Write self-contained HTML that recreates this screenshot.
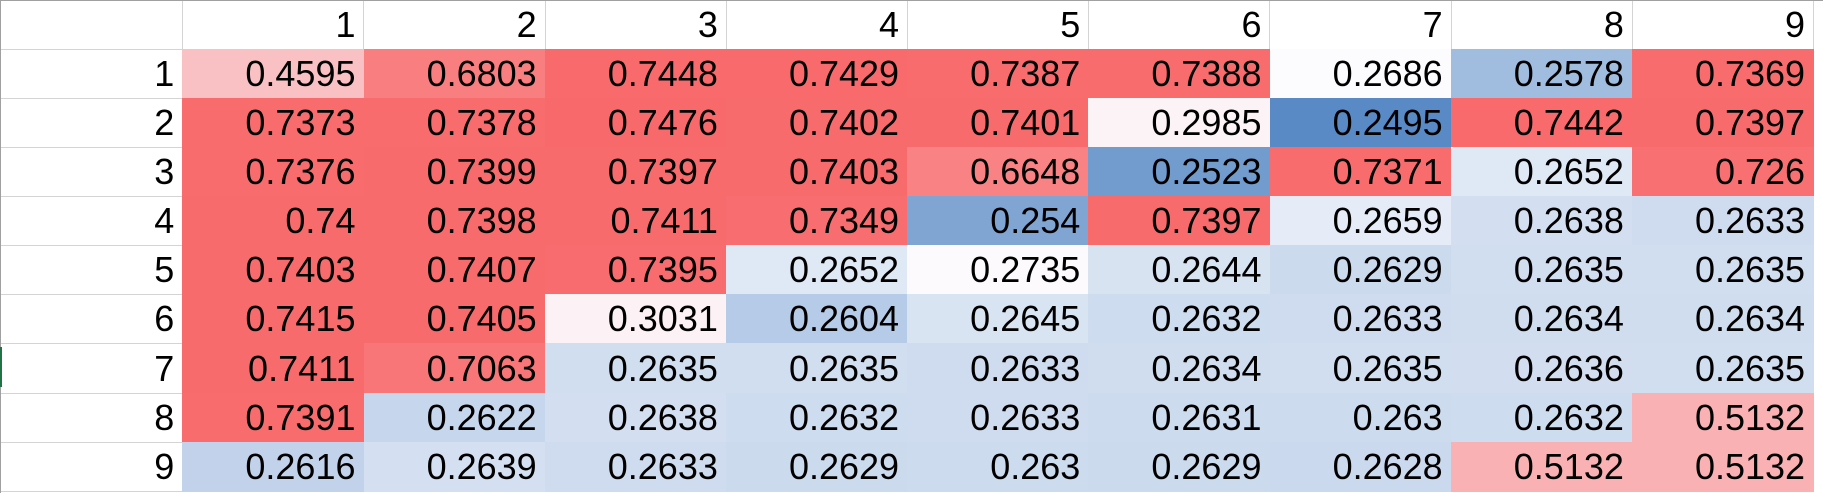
<!DOCTYPE html>
<html><head><meta charset="utf-8">
<style>
html,body{margin:0;padding:0;background:#fff;}
#sheet{position:relative;width:1823px;height:493px;overflow:hidden;font-family:"Liberation Sans",sans-serif;}
.c{position:absolute;box-sizing:border-box;border-right:1px solid #d4d4d4;border-bottom:1px solid #d4d4d4;font-size:36px;color:#000;line-height:1;}
.c span{position:absolute;right:8px;bottom:6px;}
</style></head>
<body>
<div id="sheet"></div>
<script>
const colLabels = ["1","2","3","4","5","6","7","8","9"];
const rowLabels = ["1","2","3","4","5","6","7","8","9"];
const row1 = ["0.4595","0.6803","0.7448","0.7429","0.7387","0.7388","0.2686","0.2578","0.7369"];
const row2 = ["0.7373","0.7378","0.7476","0.7402","0.7401","0.2985","0.2495","0.7442","0.7397"];
const row3 = ["0.7376","0.7399","0.7397","0.7403","0.6648","0.2523","0.7371","0.2652","0.726"];
const row4 = ["0.74","0.7398","0.7411","0.7349","0.254","0.7397","0.2659","0.2638","0.2633"];
const row5 = ["0.7403","0.7407","0.7395","0.2652","0.2735","0.2644","0.2629","0.2635","0.2635"];
const row6 = ["0.7415","0.7405","0.3031","0.2604","0.2645","0.2632","0.2633","0.2634","0.2634"];
const row7 = ["0.7411","0.7063","0.2635","0.2635","0.2633","0.2634","0.2635","0.2636","0.2635"];
const row8 = ["0.7391","0.2622","0.2638","0.2632","0.2633","0.2631","0.263","0.2632","0.5132"];
const row9 = ["0.2616","0.2639","0.2633","0.2629","0.263","0.2629","0.2628","0.5132","0.5132"];
const rows = [row1,row2,row3,row4,row5,row6,row7,row8,row9];

const sheet = document.getElementById('sheet');
const X0 = 182.3, CW = 181.2, Y0 = 49, RH = 49.08;
const xPos = i => X0 + CW * i;
const yPos = j => Y0 + RH * j;

const all = rows.flat().map(Number).sort((a,b)=>a-b);
const vmin = all[0], vmax = all[all.length-1];
const mid = all[Math.floor(all.length/2)];
const blue=[90,138,198], white=[252,252,255], red=[248,105,107];
function lerp(a,b,t){return a.map((v,i)=>Math.round(v+(b[i]-v)*t));}
function color(v){
  let c;
  if(v<=mid) c=lerp(blue,white,(v-vmin)/(mid-vmin||1));
  else c=lerp(white,red,(v-mid)/(vmax-mid||1));
  return `rgb(${c[0]},${c[1]},${c[2]})`;
}
function cell(x,y,w,h,text,bg,name){
  const d=document.createElement('div');
  d.className='c';
  d.style.left=x+'px';d.style.top=y+'px';d.style.width=(w+1)+'px';d.style.height=(h+1)+'px';
  if(bg){d.style.background=bg;d.style.borderColor=bg;}
  const s=document.createElement('span');s.textContent=text;d.appendChild(s);
  
  
  sheet.appendChild(d);
}
cell(0,0,X0,Y0,"",null,"corner-cell");
colLabels.forEach((l,i)=>cell(xPos(i),0,CW,Y0,l,null,"column-header-"+l));
rowLabels.forEach((l,j)=>cell(0,yPos(j),X0,RH,l,null,"row-header-"+l));
rows.forEach((r,j)=>r.forEach((v,i)=>cell(xPos(i),yPos(j),CW,RH,v,color(+v),"heat-cell-r"+(j+1)+"-c"+(i+1))));
const topBorder=document.createElement('div');
topBorder.style.cssText='position:absolute;left:0;top:0;width:1823px;height:1px;background:#a0a0a0';


sheet.appendChild(topBorder);
const leftBorder=document.createElement('div');
leftBorder.style.cssText='position:absolute;left:0;top:0;width:1px;height:493px;background:#a0a0a0';


sheet.appendChild(leftBorder);
const selMark=document.createElement('div');
selMark.style.cssText='position:absolute;left:0;top:'+(yPos(6)+4)+'px;width:2px;height:40px;background:#217346';


sheet.appendChild(selMark);
</script>
</body></html>
